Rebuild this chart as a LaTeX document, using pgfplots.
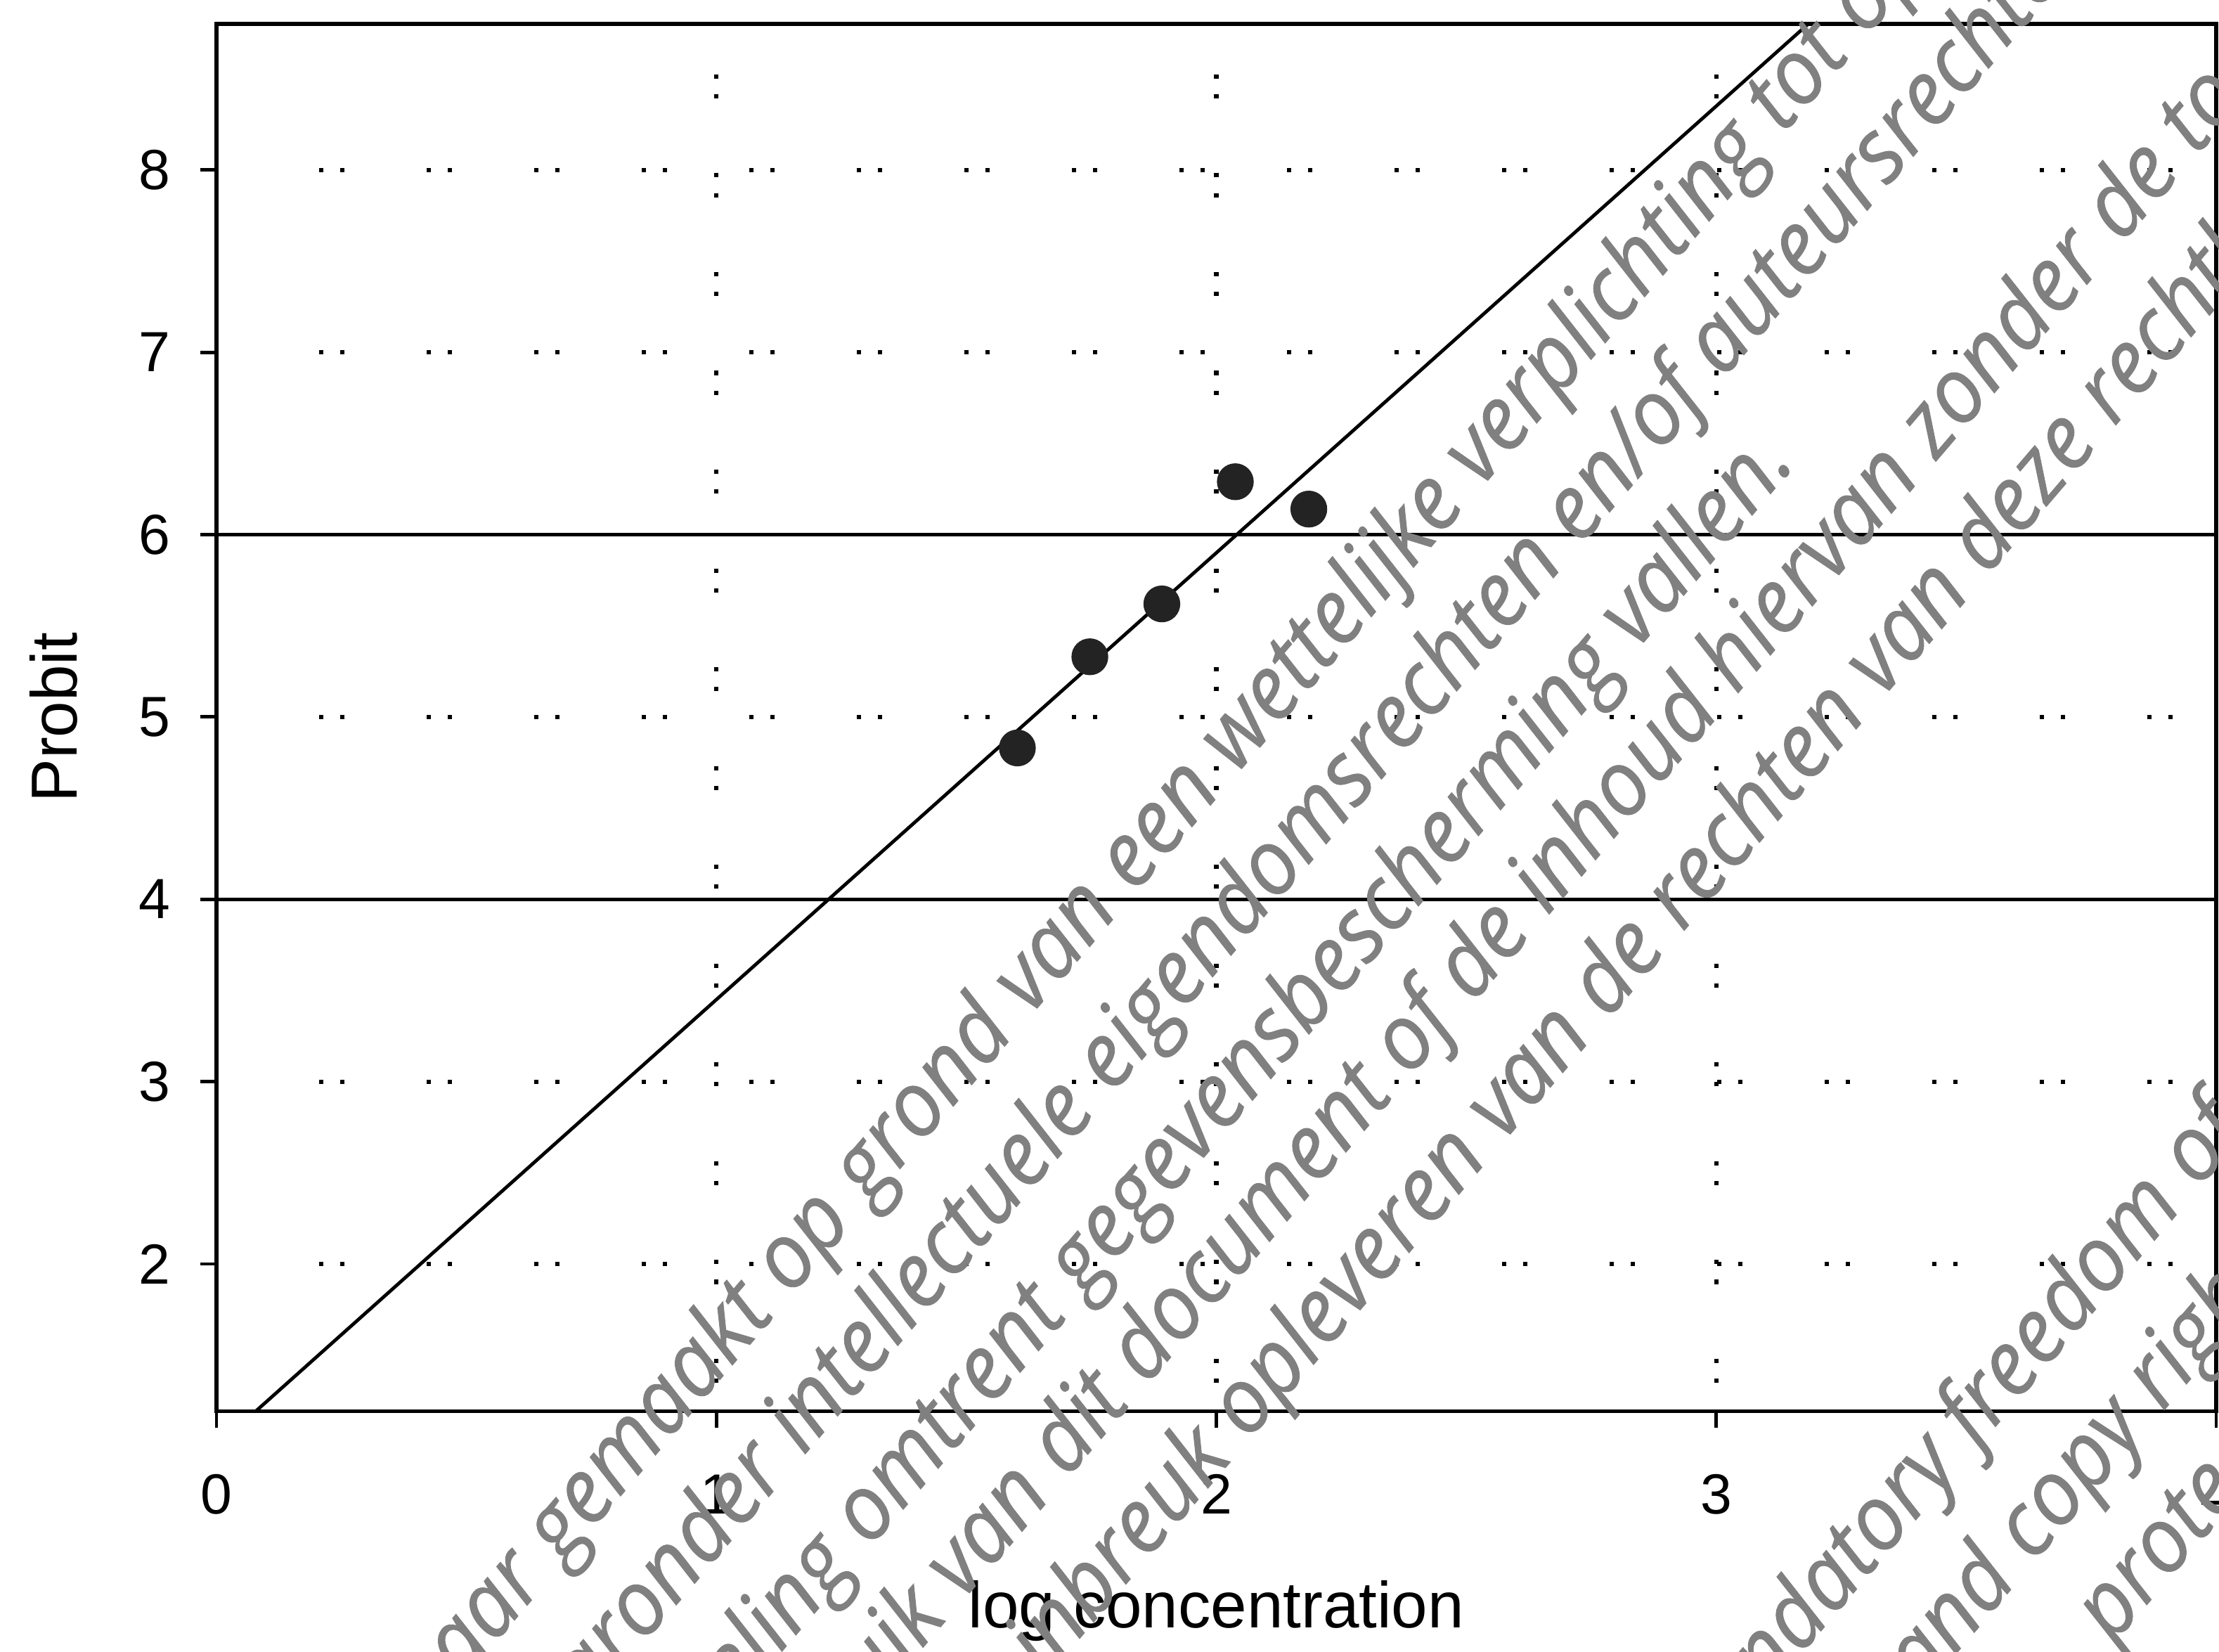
\documentclass[border=0pt]{standalone}
\usepackage{fontspec}
\setmainfont{Liberation Sans}
\newfontfamily\wmfont{Open Sans}[FakeStretch=0.95, FakeBold=0.7]
\usepackage{pgfplots}
\pgfplotsset{compat=1.18}
\definecolor{wmgray}{RGB}{128,128,128}
\definecolor{ptcol}{RGB}{35,35,35}
\tikzset{wm/.style={font=\wmfont\itshape\fontsize{16}{16}\selectfont, text=wmgray, rotate=49.5, inner sep=0pt, outer sep=0pt, anchor=base west}}
\pgfplotstableread{
x y
1.602 4.83
1.747 5.33
1.891 5.62
2.038 6.29
2.185 6.14
}\probitdata
\begin{document}
\begin{tikzpicture}
\path[use as bounding box] (-38.25pt,-42.5pt) rectangle (353.75pt,249.25pt);
\begin{axis}[
 at={(0pt,0pt)}, anchor=south west,
 scale only axis, width=353.25pt, height=245pt,
 xmin=0, xmax=4, ymin=1.193, ymax=8.8,
 xtick={0,1,2,3,4}, ytick={2,3,4,5,6,7,8},
 xtick pos=bottom, ytick pos=left,
 tick align=outside, major tick length=2.9pt,
 every tick/.style={black, line width=0.6pt},
 axis line style={line width=0.7pt},
 xmajorgrids,
 x grid style={black, line width=0.75pt, dash pattern=on 0.75pt off 2.75pt on 0.75pt off 13.2pt, dash phase=12.45pt},
 /pgf/number format/assume math mode=true,
 xticklabel style={font=\fontsize{10}{12}\selectfont, anchor=center, yshift=-11.75pt},
 yticklabel style={font=\fontsize{10}{12}\selectfont, anchor=center, xshift=-8.05pt},
 xlabel={log concentration}, ylabel={Probit},
 every axis x label/.style={font=\fontsize{11.5}{13}\selectfont, at={(axis description cs:0.5,0)}, anchor=center, yshift=-35.25pt},
 every axis y label/.style={font=\fontsize{11.5}{13}\selectfont, at={(axis description cs:0,0.5)}, xshift=-28.75pt, rotate=90, anchor=center},
]
% dotted horizontal grid rows
\addplot[black, line width=0.75pt, dash pattern=on 0.75pt off 3pt on 0.75pt off 14.5pt] coordinates {(0.205,2) (4,2)};
\addplot[black, line width=0.75pt, dash pattern=on 0.75pt off 3pt on 0.75pt off 14.5pt] coordinates {(0.205,3) (4,3)};
\addplot[black, line width=0.75pt, dash pattern=on 0.75pt off 3pt on 0.75pt off 14.5pt] coordinates {(0.205,5) (4,5)};
\addplot[black, line width=0.75pt, dash pattern=on 0.75pt off 3pt on 0.75pt off 14.5pt] coordinates {(0.205,7) (4,7)};
\addplot[black, line width=0.75pt, dash pattern=on 0.75pt off 3pt on 0.75pt off 14.5pt] coordinates {(0.205,8) (4,8)};
% solid reference lines
\addplot[black, line width=0.6pt] coordinates {(0,4) (4,4)};
\addplot[black, line width=0.6pt] coordinates {(0,6) (4,6)};
% fitted probit line
\addplot[black, line width=0.6pt] coordinates {(0,1.0) (3.3,9.085)};
% observations
\addplot[only marks, mark=*, mark size=3.05pt, mark options={fill=ptcol, draw=ptcol}] table[x=x, y=y] {\probitdata};
\end{axis}
\begin{scope}
\clip (-38.25pt,-42.5pt) rectangle (353.75pt,249.25pt);
\begin{scope}[x=0.25pt,y=-0.25pt,shift={(-38.25pt,249.25pt)}]
\node[wm] at (874.3,546.8) {\llap{Dit document is openbaar gemaakt op grond van een\ }wettelijke verplichting tot openbaarmaking.};
\node[wm] at (1116.8,386.0) {\llap{Het kan rechten bevatten, waaronder intellectuele eigendomsrechten\ }en/of auteursrechten of};
\node[wm] at (1157.1,459.0) {\llap{de regeling omtrent gegevensbescherming\ }vallen.};
\node[wm] at (1368.6,325.3) {\llap{Elk gebruik van dit document of de inhoud hiervan\ }zonder de toestemming};
\node[wm] at (1330.7,492.9) {\llap{kan een inbreuk opleveren van de rechten\ }van deze rechthebbenden.};
\node[wm] at (1396.6,1023.8) {\llap{published due to mandatory\ }freedom of information};
\node[wm] at (1436.9,1104.5) {\llap{and\ }copy right};
\node[wm] at (1493,1162) {protected};
\end{scope}
\end{scope}
\end{tikzpicture}
\end{document}
